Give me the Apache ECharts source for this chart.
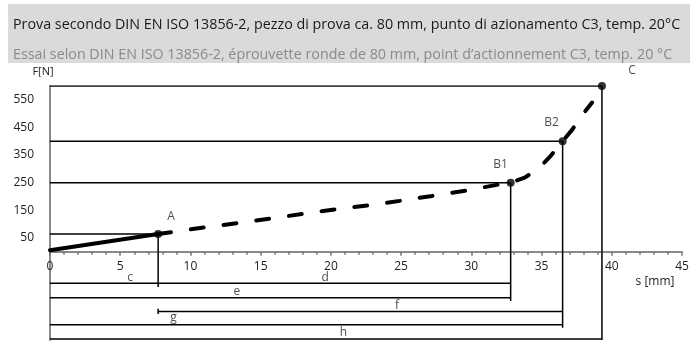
<!DOCTYPE html>
<html>
<head>
<meta charset="utf-8">
<script src="https://cdn.jsdelivr.net/npm/echarts@6/dist/echarts.min.js"></script>
<style>
html,body{margin:0;padding:0;background:#fff;}
#chart{width:698px;height:341px;}
</style>
</head>
<body>
<div id="chart"></div>
<script>
// ---- data ----
const titleLine1 = 'Prova secondo DIN EN ISO 13856-2, pezzo di prova ca. 80 mm, punto di azionamento C3, temp. 20°C';
const titleLine2 = 'Essai selon DIN EN ISO 13856-2, éprouvette ronde de 80 mm, point d’actionnement C3, temp. 20 °C';
const yAxisTitle = 'F[N]';
const xAxisTitle = 's [mm]';
const yTickValues = [50, 150, 250, 350, 450, 550];

// solid part of the curve (0 -> A)
const solidS = [0, 7.7];
const solidF = [5, 64];
// dashed part of the curve (A -> towards C)
const dashS = [7.7, 11, 13.4, 15.7, 18, 20.3, 22.7, 24.9, 27.2, 29.6, 31.8, 32.8, 33.8, 34.8, 35.6, 36.5, 37.2, 37.8, 38.6];
const dashF = [64, 88, 104, 120, 137, 153, 168, 184, 202, 221, 242, 250, 268, 302, 344, 400, 443, 489, 540];

// characteristic points
const pointNames = ['A', 'B1', 'B2', 'C'];
const pointS = [7.7, 32.8, 36.5, 39.3];
const pointF = [64, 250, 400, 600];
// how far (in the dimension band below the axis) each vertical drop reaches
const pointDropTo = [-128, -179, -276, -320];

// dimension lines below the axis
const dimFrom = [0, 0, 7.7, 0, 0];
const dimTo = [32.8, 32.8, 36.5, 36.5, 39.3];
const dimLevel = [-114, -167, -217, -265, -316];
// small end tick of the f line at A
const fTickS = [7.7, 7.7];
const fTickF = [-207, -226];

// dimension labels
const dimLabelText = ['c', 'd', 'e', 'f', 'g', 'h'];
const dimLabelS = [5.7, 19.6, 13.3, 24.7, 8.8, 20.9];
const dimLabelF = [-95, -95, -146, -196, -240, -294];

// ---- chart ----
const FONT = 'Open Sans';
const chart = echarts.init(document.getElementById('chart'));
const zip = (a, b) => a.map((v, i) => [v, b[i]]);

const series = [];
const thin = { color: '#000', width: 1.5 };
function seg(data, gi) {
  series.push({ type: 'line', xAxisIndex: gi, yAxisIndex: gi, data: data, symbol: 'none', lineStyle: thin, z: 2, silent: true, animation: false });
}
pointS.forEach((s, i) => {
  seg([[0, pointF[i]], [s, pointF[i]]], 0);      // horizontal to the y axis
  seg([[s, pointF[i]], [s, 0]], 0);              // vertical down to the s axis
  seg([[s, 0], [s, pointDropTo[i]]], 1);         // continued in the dimension band
});
dimFrom.forEach((s, i) => {
  seg([[s, dimLevel[i]], [dimTo[i], dimLevel[i]]], 1);
});
seg(zip(fTickS, fTickF), 1);

series.push({ type: 'line', data: zip(solidS, solidF), symbol: 'none', lineStyle: { color: '#000', width: 4, cap: 'round' }, z: 3, animation: false });
series.push({ type: 'line', data: zip(dashS, dashF), symbol: 'none', lineStyle: { color: '#000', width: 4, type: [13, 20], cap: 'round' }, z: 3, animation: false });

const labelOffsets = [[13, -17], [-10, -18], [-11, -19], [30, -15]];
series.push({
  type: 'scatter', symbol: 'circle', symbolSize: 8, itemStyle: { color: '#000' }, z: 5, animation: false,
  data: pointS.map((s, i) => ({
    value: [s, pointF[i]], name: pointNames[i],
    label: { show: true, formatter: pointNames[i], position: 'inside', offset: labelOffsets[i], color: '#222', fontFamily: FONT, fontSize: 12 }
  }))
});
series.push({
  type: 'scatter', xAxisIndex: 1, yAxisIndex: 1, symbol: 'circle', symbolSize: 2, itemStyle: { color: 'rgba(0,0,0,0)' }, z: 5, animation: false,
  data: dimLabelS.map((s, i) => ({ value: [s, dimLabelF[i]], name: dimLabelText[i] })),
  label: { show: true, position: 'inside', formatter: '{b}', color: '#222', fontFamily: FONT, fontSize: 12 }
});

chart.setOption({
  animation: false,
  backgroundColor: '#fff',
  grid: [
    { left: 50, right: 16, top: 86, bottom: 89.3, containLabel: false, outerBoundsMode: 'none' },
    { left: 50, right: 16, top: 251.7, bottom: 1, containLabel: false, outerBoundsMode: 'none' }
  ],
  xAxis: [{
    type: 'value', min: 0, max: 45, interval: 5, gridIndex: 0,
    axisLine: { lineStyle: { color: '#8a8a8a', width: 2 } },
    axisTick: { show: true, length: 4, lineStyle: { color: '#777', width: 1.5 } },
    minorTick: { show: true, splitNumber: 5, length: 3, lineStyle: { color: '#777', width: 1.5 } },
    splitLine: { show: false },
    axisLabel: { color: '#222', fontFamily: FONT, fontSize: 12, margin: 9 }
  }, {
    type: 'value', min: 0, max: 45, gridIndex: 1, show: false
  }],
  yAxis: [{
    type: 'value', min: 0, max: 600, gridIndex: 0,
    axisLine: { show: true, lineStyle: { color: '#8a8a8a', width: 2 } },
    axisTick: { show: false },
    splitLine: { show: false },
    axisLabel: { customValues: yTickValues, color: '#222', fontFamily: FONT, fontSize: 12, margin: 16 }
  }, {
    type: 'value', min: -320, max: 0, gridIndex: 1,
    axisLine: { show: true, lineStyle: { color: '#8a8a8a', width: 2 } },
    axisTick: { show: false }, axisLabel: { show: false }, splitLine: { show: false }
  }],
  graphic: [
    { type: 'rect', shape: { x: 8, y: 4, width: 682, height: 59 }, style: { fill: '#dadada' }, z: 0 },
    { type: 'text', x: 13, y: 25, style: { text: titleLine1, font: '14.3px "' + FONT + '"', fill: '#1a1a1a', verticalAlign: 'middle' } },
    { type: 'text', x: 13, y: 55, style: { text: titleLine2, font: '14.3px "' + FONT + '"', fill: '#8a8a8a', verticalAlign: 'middle' } },
    { type: 'text', x: 43, y: 72, style: { text: yAxisTitle, font: '11px "' + FONT + '"', fill: '#222', align: 'center', verticalAlign: 'middle' } },
    { type: 'text', x: 655, y: 282, style: { text: xAxisTitle, font: '12px "' + FONT + '"', fill: '#222', align: 'center', verticalAlign: 'middle' } }
  ],
  series: series
});
</script>
</body>
</html>
